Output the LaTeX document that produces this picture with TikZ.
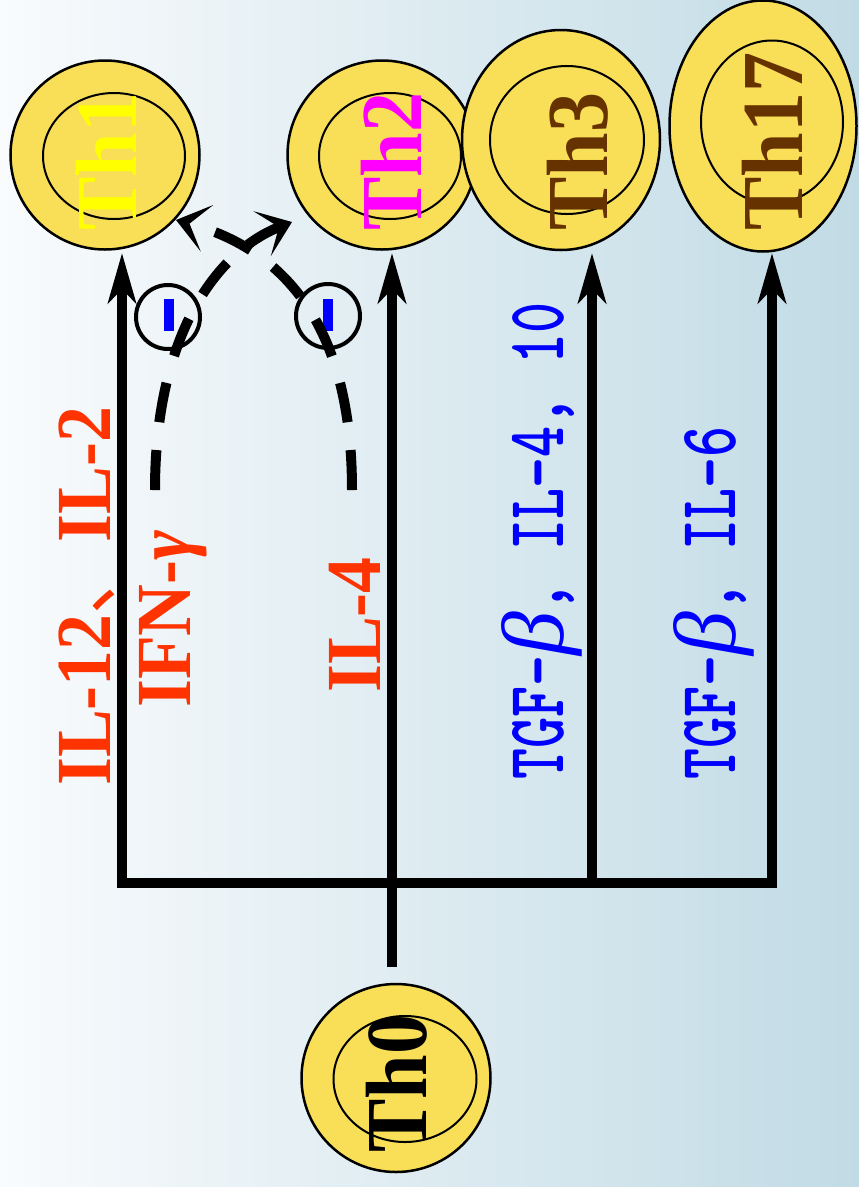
\documentclass[tikz,border=0pt]{standalone}
\usepackage{fontspec}
\setmainfont{Liberation Serif}
\newfontfamily\cjkf{Noto Sans CJK SC}
\usetikzlibrary{arrows.meta,shapes.geometric}

\definecolor{cellfill}{RGB}{249,222,87}
\definecolor{cytored}{RGB}{255,51,0}
\definecolor{thbrown}{RGB}{102,51,0}
\definecolor{thyellow}{RGB}{255,255,0}
\definecolor{thmagenta}{RGB}{255,0,255}
\definecolor{sigblue}{RGB}{0,0,255}
\definecolor{bgleft}{RGB}{249,251,253}
\definecolor{bgmid}{RGB}{232,237,243}
\definecolor{bgright}{RGB}{193,219,229}

% condensed monospace run for the blue cytokine labels
\newcommand\narrowmono[1]{\scalebox{0.72}[1]{\ttfamily\bfseries #1}}
\newcommand\narrowserif[1]{\scalebox{0.92}[1]{#1}}

\tikzset{
  cell/.style={ellipse, draw=black, line width=2.5pt, fill=cellfill, inner sep=0pt},
  core/.style={ellipse, draw=black, line width=2pt, inner sep=0pt},
  thlabel/.style={rotate=90, anchor=base west, inner sep=0pt,
    font=\bfseries\fontsize{87}{87}\selectfont},
  cyto/.style={rotate=90, anchor=base west, inner sep=0pt, text=cytored,
    font=\bfseries\fontsize{78}{78}\selectfont},
  sig/.style={rotate=90, anchor=base west, inner sep=0pt, text=sigblue,
    font=\fontsize{82}{82}\selectfont},
  trunk/.style={line width=10pt, line join=miter},
  bigtip/.tip={Stealth[length=50pt,width=28pt,inset=14pt]},
  dashcurve/.style={line width=10pt, dash pattern=on 40pt off 28pt,
    -{Stealth[length=32pt,width=48pt,inset=18pt]}},
  blocker/.style={circle, draw=black, line width=4pt, minimum size=64pt, inner sep=0pt},
  minusbar/.style={rectangle, fill=sigblue, minimum width=10pt, minimum height=32pt, inner sep=0pt}
}

\begin{document}
\begin{tikzpicture}[x=1pt,y=-1pt]
  \useasboundingbox (0,0) rectangle (859,1187);
  \shade[left color=bgleft, middle color=bgmid, right color=bgright]
    (0,0) rectangle (859,1187);

  % cells: outer membrane, nucleus, name
  \node[cell, minimum width=189pt, minimum height=189pt] (th1) at (105,155) {};
  \node[core, minimum width=142pt, minimum height=126pt] (th1n) at (114,156) {};
  \node[thlabel, text=thyellow] (th1t) at (136,231) {\narrowserif{Th1}};

  \node[cell, minimum width=189pt, minimum height=189pt] (th2) at (382,155) {};
  \node[core, minimum width=142pt, minimum height=126pt] (th2n) at (390,156) {};
  \node[thlabel, text=thmagenta] (th2t) at (421,231) {\narrowserif{Th2}};

  \node[cell, minimum width=198pt, minimum height=220pt] (th3) at (561,140) {};
  \node[core, minimum width=154pt, minimum height=148pt] (th3n) at (567,140) {};
  \node[thlabel, text=thbrown] (th3t) at (607,231) {\narrowserif{Th3}};

  \node[cell, minimum width=187pt, minimum height=251pt] (th17) at (763,126) {};
  \node[core, minimum width=142pt, minimum height=163pt] (th17n) at (772,122) {};
  \node[thlabel, text=thbrown] (th17t) at (802,231) {\narrowserif{Th17}};

  \node[cell, minimum width=189pt, minimum height=188pt] (th0) at (396,1078) {};
  \node[core, minimum width=143pt, minimum height=126pt] (th0n) at (405,1079) {};
  \node[thlabel, text=black] (th0t) at (426,1153) {\narrowserif{Th0}};

  % branching tree of differentiation
  \coordinate (root) at (392,967);
  \coordinate (lft) at (122,883);
  \coordinate (rgt) at (772,883);
  \coordinate (mid3) at (592,883);
  \coordinate (th1tip) at (122,253);
  \coordinate (th2tip) at (392,253);
  \coordinate (th3tip) at (592,253);
  \coordinate (th17tip) at (772,253);

  \draw[trunk, {bigtip}-{bigtip}] (th1tip) -- (lft) -- (rgt) -- (th17tip);
  \draw[trunk, -{bigtip}] (root) -- (th2tip);
  \draw[trunk, -{bigtip}] (mid3) -- (th3tip);

  % cross-inhibition
  \node[blocker] (blk1) at (168,317) {};
  \node[blocker] (blk2) at (328,316) {};
  \node[minusbar] (neg1) at (169,315) {};
  \node[minusbar] (neg2) at (328,315) {};

  \coordinate (ifnsrc) at (155,490);
  \coordinate (il4src) at (352,490);
  \coordinate (toth2) at (292,222);
  \coordinate (toth1) at (176,220);
  \draw[dashcurve] (ifnsrc) .. controls (155,330) and (220,250) .. (toth2);
  \draw[dashcurve] (il4src) .. controls (352,330) and (288,250) .. (toth1);

  % cytokine labels
  \node[cyto] (il12) at (110,786) {\narrowserif{IL-12{\cjkf\mdseries 、}IL-2}};
  \node[cyto] (ifng) at (190,708) {\narrowserif{IFN-{\itshape γ}}};
  \node[cyto] (il4) at (380,693) {\narrowserif{IL-4}};

  \node[sig] (tgf3) at (563,780)
    {\narrowmono{TGF-}{\fontsize{88}{88}\selectfont\itshape β}\narrowmono{, IL-4, 10}};
  \node[sig] (tgf17) at (735,780)
    {\narrowmono{TGF-}{\fontsize{88}{88}\selectfont\itshape β}\narrowmono{, IL-6}};
\end{tikzpicture}
\end{document}
